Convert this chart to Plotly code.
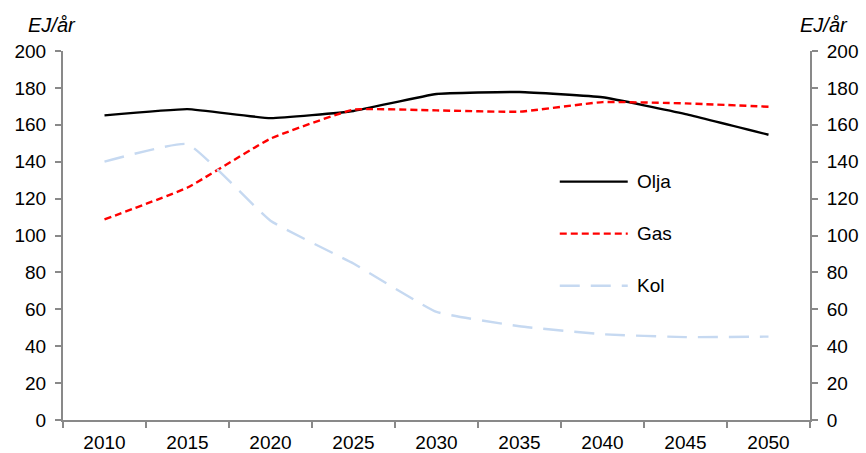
import plotly.graph_objects as go

years = ["2010", "2015", "2020", "2025", "2030", "2035", "2040", "2045", "2050"]
olja = [165.1, 168.5, 163.6, 167.5, 176.7, 177.8, 174.9, 165.8, 154.6]
gas = [108.7, 126.0, 152.5, 168.2, 167.8, 167.1, 172.3, 171.6, 169.8]
kol = [140.0, 149.5, 108.0, 84.8, 58.6, 50.8, 46.5, 44.9, 45.2]
y_ticks = [0, 20, 40, 60, 80, 100, 120, 140, 160, 180, 200]

FONT = "Liberation Sans, Arial, sans-serif"
AXIS_GRAY = "#898989"
FS = 19

series = [
    ("Olja", olja, dict(color="#000000", width=2.4, dash="solid")),
    ("Gas", gas, dict(color="#ff0000", width=2.4, dash="7px,4px")),
    ("Kol", kol, dict(color="#c6d9f1", width=2.4, dash="20px,11px")),
]

fig = go.Figure()
for name, vals, ln in series:
    fig.add_trace(go.Scatter(x=years, y=vals, mode="lines", name=name,
                             line=dict(shape="spline", smoothing=0.35, **ln),
                             showlegend=False))

# invisible trace so the secondary (right) axis is drawn
fig.add_trace(go.Scatter(x=years, y=olja, yaxis="y2", mode="lines", opacity=0,
                         hoverinfo="skip", showlegend=False))

# manual legend (long line samples like the original)
leg_y = [0.646, 0.505, 0.364]
for (name, vals, ln), ly in zip(series, leg_y):
    fig.add_shape(type="line", xref="paper", yref="paper",
                  x0=0.665, x1=0.756, y0=ly, y1=ly,
                  line=dict(color=ln["color"], width=ln["width"], dash=ln["dash"]))
    fig.add_annotation(xref="paper", yref="paper", x=0.766, y=ly, text=name,
                       showarrow=False, xanchor="left", yanchor="middle",
                       font=dict(family=FONT, size=FS, color="#000"))

for ax_x in (-0.0147, 1.0187):
    fig.add_annotation(xref="paper", yref="paper", x=ax_x, y=1.0, yshift=26,
                       text="<i>EJ/år</i>", showarrow=False, xanchor="center",
                       yanchor="middle", font=dict(family=FONT, size=20, color="#000"))

yaxis_common = dict(range=[0, 200], tickvals=y_ticks, showgrid=False, zeroline=False,
                    showline=True, linecolor=AXIS_GRAY, linewidth=2, automargin=False,
                    ticks="outside", ticklen=6, tickwidth=2, tickcolor=AXIS_GRAY,
                    ticklabelstandoff=5,
                    tickfont=dict(family=FONT, size=FS, color="#000"))

fig.update_layout(
    width=866, height=453,
    margin=dict(l=63, r=56, t=51, b=33),
    plot_bgcolor="white", paper_bgcolor="white",
    xaxis=dict(type="category", tickson="boundaries", ticks="outside", ticklen=6,
               tickwidth=2, tickcolor=AXIS_GRAY, showline=True, linecolor=AXIS_GRAY,
               linewidth=2, showgrid=False, range=[-0.5, 8.5], automargin=False,
               ticklabelstandoff=4,
               tickfont=dict(family=FONT, size=FS, color="#000")),
    yaxis=dict(**yaxis_common),
    yaxis2=dict(overlaying="y", side="right", **yaxis_common),
)

fig.write_html("out.html")
